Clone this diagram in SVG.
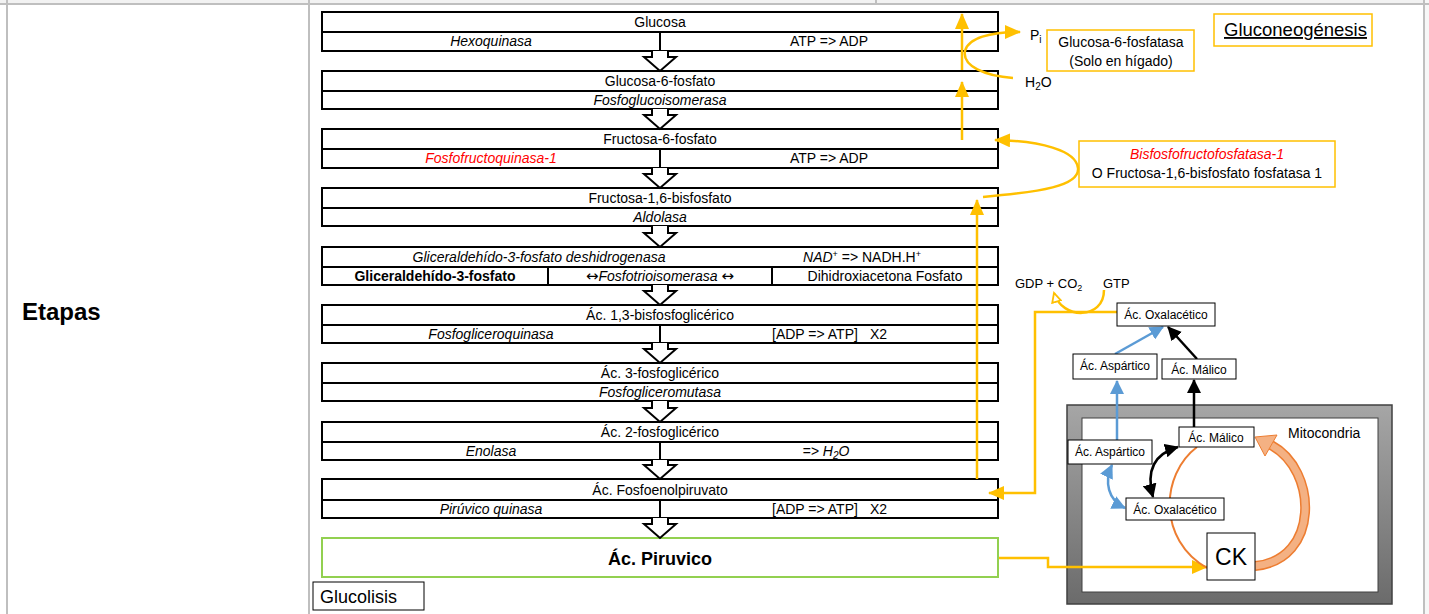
<svg xmlns="http://www.w3.org/2000/svg" width="1429" height="614" viewBox="0 0 1429 614">
<defs>
<style>
text{font-family:"Liberation Sans",Arial,sans-serif;font-size:14px;fill:#000}
.c{text-anchor:middle}
.i{font-style:italic}
.b{font-weight:bold}
.red{fill:#ff0000}
.box{fill:#fff;stroke:#000;stroke-width:2}
.ln{stroke:#000;stroke-width:2;fill:none}
.barrow{fill:#fff;stroke:#000;stroke-width:2}
.grid{stroke:#bfbfbf;stroke-width:2;fill:none}
.or{stroke:#ffc000;stroke-width:2.5;fill:none}
.ybox{fill:#fff;stroke:#ffc000;stroke-width:1.5}
.sbox{fill:#fff;stroke:#000;stroke-width:1}
.s{font-size:12px}
.bl{stroke:#5b9bd5;stroke-width:2.5;fill:none}
.bk{stroke:#000;stroke-width:2.5;fill:none}
.arw{font-family:"DejaVu Sans",sans-serif;font-style:normal;font-size:15px}
</style>
<marker id="ao" viewBox="0 0 16 14" refX="15" refY="7" markerWidth="16" markerHeight="14" markerUnits="userSpaceOnUse" orient="auto"><path d="M0,0 L16,7 L0,14 z" fill="#ffc000"/></marker>
<marker id="aopen" viewBox="0 0 12 12" refX="10" refY="6" markerWidth="12" markerHeight="12" markerUnits="userSpaceOnUse" orient="auto"><path d="M1,1.5 L10,6 L1,10.5 z" fill="#fff" stroke="#ffc000" stroke-width="1.8"/></marker>
<marker id="ab" viewBox="0 0 14 14" refX="13" refY="7" markerWidth="14" markerHeight="14" markerUnits="userSpaceOnUse" orient="auto-start-reverse"><path d="M0,0 L14,7 L0,14 z" fill="#000"/></marker>
<marker id="au" viewBox="0 0 14 14" refX="13" refY="7" markerWidth="14" markerHeight="14" markerUnits="userSpaceOnUse" orient="auto-start-reverse"><path d="M0,0 L14,7 L0,14 z" fill="#5b9bd5"/></marker>
<linearGradient id="mg" x1="0" y1="0" x2="0" y2="1"><stop offset="0" stop-color="#a6a6a6"/><stop offset="1" stop-color="#6b6b6b"/></linearGradient>
</defs>
<rect x="0" y="0" width="1429" height="614" fill="#fff"/>
<rect x="0" y="0" width="1429" height="4" fill="#f2f2f2"/>
<rect x="1425" y="0" width="4" height="614" fill="#f7f7f7"/>
<g id="table">
<path class="grid" d="M0,4 H1429 M7,0 V614 M309,0 V614 M876,0 V4 M1424,0 V614"/>
<text class="b" x="22" y="320" style="font-size:24px">Etapas</text>
</g>

<g id="glucosa">
<rect class="box" x="322" y="12" width="676" height="39"/>
<path class="ln" d="M322,32 H998 M660,32 V51"/>
<text class="c" x="660" y="27">Glucosa</text>
<text class="c i" x="491" y="46">Hexoquinasa</text>
<text class="c" x="829" y="46">ATP =&gt; ADP</text>
</g>
<g id="glucosa6p">
<rect class="box" x="322" y="71" width="676" height="38"/>
<path class="ln" d="M322,91 H998"/>
<text class="c" x="660" y="86">Glucosa-6-fosfato</text>
<text class="c i" x="660" y="105">Fosfoglucoisomerasa</text>
</g>
<g id="fructosa6p">
<rect class="box" x="322" y="129" width="676" height="39"/>
<path class="ln" d="M322,149 H998 M660,149 V168"/>
<text class="c" x="660" y="144">Fructosa-6-fosfato</text>
<text class="c i red" x="491" y="163">Fosfofructoquinasa-1</text>
<text class="c" x="829" y="163">ATP =&gt; ADP</text>
</g>
<g id="fructosa16bp">
<rect class="box" x="322" y="188" width="676" height="38"/>
<path class="ln" d="M322,208 H998"/>
<text class="c" x="660" y="203">Fructosa-1,6-bisfosfato</text>
<text class="c i" x="660" y="222">Aldolasa</text>
</g>
<g id="gliceraldehido">
<rect class="box" x="322" y="247" width="676" height="38"/>
<path class="ln" d="M322,267 H998 M548,267 V285 M772,267 V285"/>
<text class="c i" x="539" y="262">Gliceraldehído-3-fosfato deshidrogenasa</text>
<text class="c" x="862" y="262"><tspan class="i">NAD</tspan><tspan dy="-5" style="font-size:9px">+</tspan><tspan dy="5"> =&gt; NADH.H</tspan><tspan dy="-5" style="font-size:9px">+</tspan></text>
<text class="c b" x="435" y="281">Gliceraldehído-3-fosfato</text>
<text class="c i" x="660" y="281"><tspan class="arw">↔</tspan>Fosfotrioisomerasa <tspan class="arw">↔</tspan></text>
<text class="c" x="885" y="281">Dihidroxiacetona Fosfato</text>
</g>
<g id="bisfosfoglicerico">
<rect class="box" x="322" y="305" width="676" height="38"/>
<path class="ln" d="M322,325 H998 M660,325 V343"/>
<text class="c" x="660" y="320">Ác. 1,3-bisfosfoglicérico</text>
<text class="c i" x="491" y="339">Fosfogliceroquinasa</text>
<text x="772" y="339">[ADP =&gt; ATP]</text>
<text x="870" y="339">X2</text>
</g>
<g id="fosfoglicerico3">
<rect class="box" x="322" y="363" width="676" height="38"/>
<path class="ln" d="M322,383 H998"/>
<text class="c" x="660" y="378">Ác. 3-fosfoglicérico</text>
<text class="c i" x="660" y="397">Fosfogliceromutasa</text>
</g>
<g id="fosfoglicerico2">
<rect class="box" x="322" y="422" width="676" height="38"/>
<path class="ln" d="M322,442 H998 M660,442 V460"/>
<text class="c" x="660" y="437">Ác. 2-fosfoglicérico</text>
<text class="c i" x="491" y="456">Enolasa</text>
<text class="c i" x="826" y="456">=&gt; H<tspan dy="3" style="font-size:10px">2</tspan><tspan dy="-3">O</tspan></text>
</g>
<g id="pep">
<rect class="box" x="322" y="479" width="676" height="39"/>
<path class="ln" d="M322,500 H998 M660,500 V518"/>
<text class="c" x="660" y="495">Ác. Fosfoenolpiruvato</text>
<text class="c i" x="491" y="514">Pirúvico quinasa</text>
<text x="772" y="514">[ADP =&gt; ATP]</text>
<text x="870" y="514">X2</text>
</g>
<g id="piruvico">
<rect x="322" y="538" width="676" height="39" fill="#fff" stroke="#92d050" stroke-width="2"/>
<text class="c b" x="660" y="565" style="font-size:18px">Ác. Piruvico</text>
</g>
<g id="glucolisis">
<rect x="313" y="582" width="111" height="28" fill="#fff" stroke="#000" stroke-width="1"/>
<text x="320" y="603" style="font-size:18px">Glucolisis</text>
</g>

<g id="block-arrows">
<path class="barrow" d="M652,51 V57 H644 L660,71 L676,57 H668 V51"/>
<path class="barrow" d="M652,109 V115 H644 L660,129 L676,115 H668 V109"/>
<path class="barrow" d="M652,168 V174 H644 L660,188 L676,174 H668 V168"/>
<path class="barrow" d="M652,226 V233 H644 L660,247 L676,233 H668 V226"/>
<path class="barrow" d="M652,285 V291 H644 L660,305 L676,291 H668 V285"/>
<path class="barrow" d="M652,343 V349 H644 L660,363 L676,349 H668 V343"/>
<path class="barrow" d="M652,401 V408 H644 L660,422 L676,408 H668 V401"/>
<path class="barrow" d="M652,460 V465 H644 L660,479 L676,465 H668 V460"/>
<path class="barrow" d="M652,518 V524 H644 L660,538 L676,524 H668 V518"/>
</g>

<g id="g6pasa">
<rect class="ybox" x="1047" y="30" width="147" height="41"/>
<text class="c" x="1121" y="47">Glucosa-6-fosfatasa</text>
<text class="c" x="1121" y="66">(Solo en hígado)</text>
</g>
<g id="pi"><text x="1030" y="40">P<tspan dy="3" style="font-size:10px">i</tspan></text></g>
<g id="h2o"><text x="1025" y="87">H<tspan dy="3" style="font-size:10px">2</tspan><tspan dy="-3">O</tspan></text></g>
<g id="gluconeogenesis">
<rect class="ybox" x="1214" y="14" width="158" height="32"/>
<text x="1224" y="36" style="font-size:18.5px;text-decoration:underline">Gluconeogénesis</text>
</g>
<g id="fbpasa">
<rect class="ybox" x="1079" y="141" width="256" height="46"/>
<text class="c i red" x="1207" y="159">Bisfosfofructofosfatasa-1</text>
<text class="c" x="1207" y="178">O Fructosa-1,6-bisfosfato fosfatasa 1</text>
</g>
<g id="gdp"><text x="1015" y="288" style="font-size:13px">GDP + CO<tspan dy="3" style="font-size:9px">2</tspan></text></g>
<g id="gtp"><text x="1103" y="288" style="font-size:13px">GTP</text></g>

<g id="mitocondria">
<rect x="1067" y="405" width="325" height="199" fill="url(#mg)" stroke="#404040" stroke-width="1.5"/>
<rect x="1082" y="418" width="296" height="174" fill="#fff" stroke="#404040" stroke-width="1"/>
<text x="1288" y="438">Mitocondria</text>
</g>

<g id="connectors">
<path class="or" d="M962,70 V14" marker-end="url(#ao)"/>
<path class="or" d="M962,140 V82" marker-end="url(#ao)"/>
<path class="or" d="M977,479 V200" marker-end="url(#ao)"/>
<path class="or" d="M1013,78 C985,76 962,66 965,51 C968,38 990,32 1020,32" marker-end="url(#ao)"/>
<path class="or" d="M983,197 C1040,192 1080,186 1078,168 C1076,150 1040,141 995,140" marker-end="url(#ao)"/>
<path class="or" d="M1117,312 H1035 V493 H989" marker-end="url(#ao)"/>
<path class="or" d="M1104,290 C1104,320 1062,320 1054,293" marker-end="url(#aopen)"/>
<path class="or" d="M999,558 H1048 V567 H1207" marker-end="url(#ao)"/>
<path d="M1197,447 C1160,475 1158,540 1207,568" fill="none" stroke="#ed7d31" stroke-width="2"/>
<path d="M1255,566 C1320,560 1318,470 1271,445" fill="none" stroke="#ed7d31" stroke-width="10"/>
<path d="M1255,566 C1320,560 1318,470 1271,445" fill="none" stroke="#f4b183" stroke-width="7"/>
<path d="M1255,437 L1277,435 L1265,456 z" fill="#f4b183" stroke="#ed7d31" stroke-width="1"/>
<path class="bl" d="M1117,440 V381" marker-end="url(#au)"/>
<path class="bl" d="M1115,354 L1163,327" marker-end="url(#au)"/>
<path class="bk" d="M1197,359 L1168,327" marker-end="url(#ab)"/>
<path class="bk" d="M1194,427 V380" marker-end="url(#ab)"/>
<path class="bk" d="M1178,447 C1150,455 1147,475 1153,497" marker-start="url(#ab)" marker-end="url(#ab)"/>
<path class="bl" d="M1112,465 C1104,482 1108,500 1125,508" marker-start="url(#au)" marker-end="url(#au)"/>
</g>

<g id="oxalacetico-cit">
<rect class="sbox" x="1117" y="303" width="98" height="23"/>
<text class="c s" x="1166" y="319">Ác. Oxalacético</text>
</g>
<g id="aspartico-cit">
<rect class="sbox" x="1073" y="354" width="84" height="25"/>
<text class="c s" x="1115" y="370">Ác. Aspártico</text>
</g>
<g id="malico-cit">
<rect class="sbox" x="1162" y="359" width="74" height="20"/>
<text class="c s" x="1199" y="374">Ác. Málico</text>
</g>
<g id="aspartico-mit">
<rect class="sbox" x="1068" y="440" width="84" height="24"/>
<text class="c s" x="1110" y="456">Ác. Aspártico</text>
</g>
<g id="malico-mit">
<rect class="sbox" x="1179" y="427" width="75" height="20"/>
<text class="c s" x="1216" y="442">Ác. Málico</text>
</g>
<g id="oxalacetico-mit">
<rect class="sbox" x="1126" y="498" width="98" height="22"/>
<text class="c s" x="1175" y="514">Ác. Oxalacético</text>
</g>
<g id="ck">
<rect class="sbox" x="1207" y="533" width="48" height="47"/>
<text class="c" x="1231" y="565" style="font-size:23px">CK</text>
</g>
</svg>
